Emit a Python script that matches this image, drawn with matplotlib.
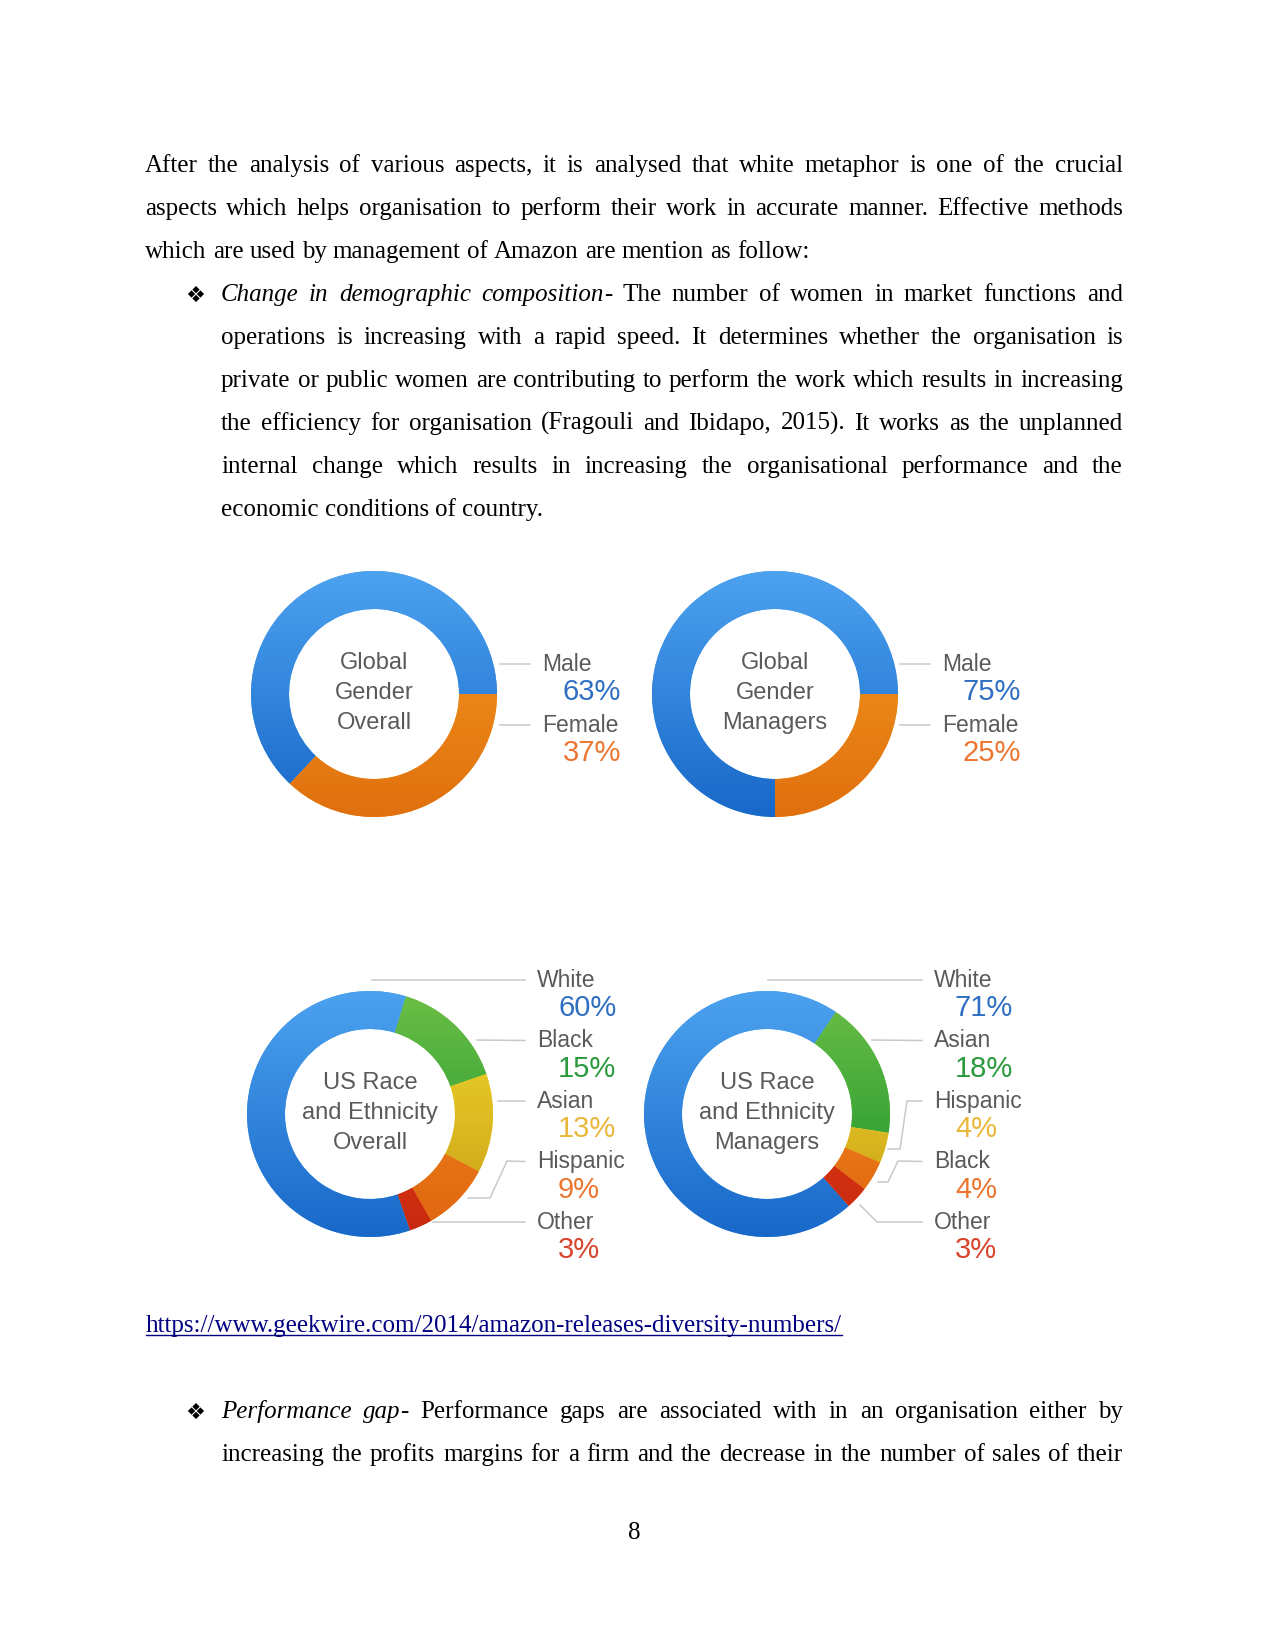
import numpy as np
import matplotlib
matplotlib.use("Agg")
import matplotlib.pyplot as plt
from matplotlib.colors import LinearSegmentedColormap

W, H = 1275, 1651

# ---------------------------------------------------------------------------
# Data
# ---------------------------------------------------------------------------
gender_labels = ["Male", "Female"]
gender_overall = [63, 37]
gender_managers = [75, 25]

race_overall_labels = ["White", "Black", "Asian", "Hispanic", "Other"]
race_overall = [60, 15, 13, 9, 3]

race_managers_labels = ["White", "Asian", "Hispanic", "Black", "Other"]
race_managers = [71, 18, 4, 4, 3]

# light / dark ends of each wedge gradient, and text colour of the percentage
PALETTE = {
    "blue":    ("#4ca2ef", "#1868c9", "#2f6fc2"),
    "orange":  ("#f59b22", "#e0700e", "#ec7630"),
    "green":   ("#6cbf46", "#14902c", "#2a9a3c"),
    "yellow":  ("#f3dc2c", "#c89c18", "#eab73a"),
    "orange2": ("#f29020", "#e06510", "#ec7630"),
    "red":     ("#ea4a1a", "#c8280e", "#d8442e"),
}

SERIF = ["Liberation Serif", "DejaVu Serif"]
SANS = ["Liberation Sans", "DejaVu Sans"]
GREY_TXT = "#5a5a5a"
LINE_COL = "#c9c9c9"


def Y(py):
    return H - py


fig = plt.figure(figsize=(W / 100, H / 100), dpi=100)
fig.patch.set_facecolor("white")
ax = fig.add_axes([0, 0, 1, 1])
renderer = fig.canvas.get_renderer()


# ---------------------------------------------------------------------------
# Justified body text
# ---------------------------------------------------------------------------
def parse(line):
    words, cur, seg, ital = [], [], "", False
    for ch in line:
        if ch == "*":
            if seg:
                cur.append((seg, ital))
                seg = ""
            ital = not ital
        elif ch == " ":
            if seg:
                cur.append((seg, ital))
                seg = ""
            if cur:
                words.append(cur)
                cur = []
        else:
            seg += ch
    if seg:
        cur.append((seg, ital))
    if cur:
        words.append(cur)
    return words


def put_line(line, x0, x1, base, justify=True, size=18, color="black"):
    words = parse(line)
    items = []
    for w in words:
        segs = []
        for s, it in w:
            t = ax.text(0, Y(base), s, family=SERIF, fontsize=size,
                        style="italic" if it else "normal",
                        color=color, va="baseline", ha="left")
            wd = t.get_window_extent(renderer).width
            segs.append((t, wd))
        items.append(segs)
    widths = [sum(wd for _, wd in segs) for segs in items]
    space = ax.text(0, 0, "a a", family=SERIF, fontsize=size).get_window_extent(renderer).width \
        - 2 * ax.text(0, 0, "a", family=SERIF, fontsize=size).get_window_extent(renderer).width
    ax.texts[-1].remove()
    ax.texts[-1].remove()
    if justify and len(items) > 1:
        gap = (x1 - x0 - sum(widths)) / (len(items) - 1)
    else:
        gap = space
    x = x0
    for segs, wd in zip(items, widths):
        xx = x
        for t, sw in segs:
            t.set_x(xx)
            xx += sw
        x += wd + gap
    return x - gap


LEFT, RIGHT, INDENT = 145, 1123, 221
para1 = [
    "After the analysis of various aspects, it is analysed that white metaphor is one of the crucial",
    "aspects which helps organisation to perform their work in accurate manner. Effective methods",
    "which are used by management of Amazon are mention as follow:",
]
para2 = [
    "*Change in demographic composition*- The number of women in market functions and",
    "operations is increasing with a rapid speed. It determines whether the organisation is",
    "private or public women are contributing to perform the work which results in increasing",
    "the efficiency for organisation (Fragouli and Ibidapo, 2015). It works as the unplanned",
    "internal change which results in increasing the organisational performance and the",
    "economic conditions of country.",
]
para3 = [
    "*Performance gap*- Performance gaps are associated with in an organisation either by",
    "increasing the profits margins for a firm and the decrease in the number of sales of their",
]

for i, ln in enumerate(para1):
    put_line(ln, LEFT, RIGHT, 172 + 43 * i, justify=i < len(para1) - 1)
for i, ln in enumerate(para2):
    put_line(ln, INDENT, RIGHT, 301 + 43 * i, justify=i < len(para2) - 1)
for i, ln in enumerate(para3):
    put_line(ln, INDENT, RIGHT, 1418 + 43 * i, justify=True)

for b in (302, 1419):
    ax.text(195, Y(b), "\u2756", family=["DejaVu Sans"], fontsize=16,
            ha="center", va="baseline", color="black")

url = "https://www.geekwire.com/2014/amazon-releases-diversity-numbers/"
x_end = put_line(url, 146, RIGHT, 1332, justify=False, color="#000080")
ax.plot([146, x_end], [Y(1335), Y(1335)], color="#000080", lw=1.0)

ax.text(634, Y(1539), "8", family=SERIF, fontsize=18, ha="center", va="baseline")


# ---------------------------------------------------------------------------
# Donuts
# ---------------------------------------------------------------------------
R_OUT, R_IN = 123, 85


def donut(values, labels, colors, cx, cy, title, startangle, counterclock,
          label_x, label_y0, label_dy, leaders):
    wedges, _ = ax.pie(values, radius=R_OUT, center=(cx, Y(cy)),
                       startangle=startangle, counterclock=counterclock,
                       colors=[PALETTE[c][0] for c in colors],
                       wedgeprops=dict(width=R_OUT - R_IN, linewidth=0))
    grad = np.linspace(0, 1, 256).reshape(-1, 1)
    for w, c in zip(wedges, colors):
        cmap = LinearSegmentedColormap.from_list("g", [PALETTE[c][1], PALETTE[c][0]])
        im = ax.imshow(grad, extent=(cx - R_OUT, cx + R_OUT, Y(cy) - R_OUT, Y(cy) + R_OUT),
                       origin="lower", cmap=cmap, aspect="auto",
                       interpolation="bilinear", zorder=2)
        im.set_clip_path(w)

    for k, line in enumerate(title):
        ax.text(cx, Y(cy - 31 + 30 * k), line, family=SANS, fontsize=17,
                color=GREY_TXT, ha="center", va="center")

    for i, (lab, v, c) in enumerate(zip(labels, values, colors)):
        ly = label_y0 + label_dy * i
        ax.text(label_x, Y(ly), lab, family=SANS, fontsize=16.5,
                color=GREY_TXT, ha="left", va="center")
        ax.text(label_x + 21, Y(ly + 28), f"{v}%", family=SANS, fontsize=21,
                color=PALETTE[c][2], ha="left", va="center")
        pts = leaders[i] + [(label_x - 12, ly)]
        ax.plot([p[0] for p in pts], [Y(p[1]) for p in pts],
                color=LINE_COL, lw=1.1, zorder=1)


donut(gender_overall, gender_labels, ["blue", "orange"], 374, 694,
      ["Global", "Gender", "Overall"], 0, True, 542, 664, 61,
      [[(500, 664)], [(500, 725)]])

donut(gender_managers, gender_labels, ["blue", "orange"], 775, 694,
      ["Global", "Gender", "Managers"], 0, True, 942, 664, 61,
      [[(900, 664)], [(900, 725)]])

donut(race_overall, race_overall_labels,
      ["blue", "green", "yellow", "orange2", "red"], 370, 1114,
      ["US Race", "and Ethnicity", "Overall"],
      73 + 3.6 * race_overall[0], False, 537, 980, 60.5,
      [[(372, 980)], [(477, 1040)], [(498, 1101)],
       [(468, 1198), (490, 1198), (507, 1161)], [(433, 1222)]])

donut(race_managers, race_managers_labels,
      ["blue", "green", "yellow", "orange2", "red"], 767, 1114,
      ["US Race", "and Ethnicity", "Managers"],
      56 + 3.6 * race_managers[0], False, 934, 980, 60.5,
      [[(768, 980)], [(872, 1040)],
       [(888, 1149), (900, 1149), (907, 1101)],
       [(878, 1182), (888, 1182), (898, 1161)],
       [(860, 1205), (877, 1222)]])

ax.set_xlim(0, W)
ax.set_ylim(0, H)
ax.set_aspect("auto")
ax.axis("off")

fig.savefig("out.png", dpi=100, facecolor="white")
